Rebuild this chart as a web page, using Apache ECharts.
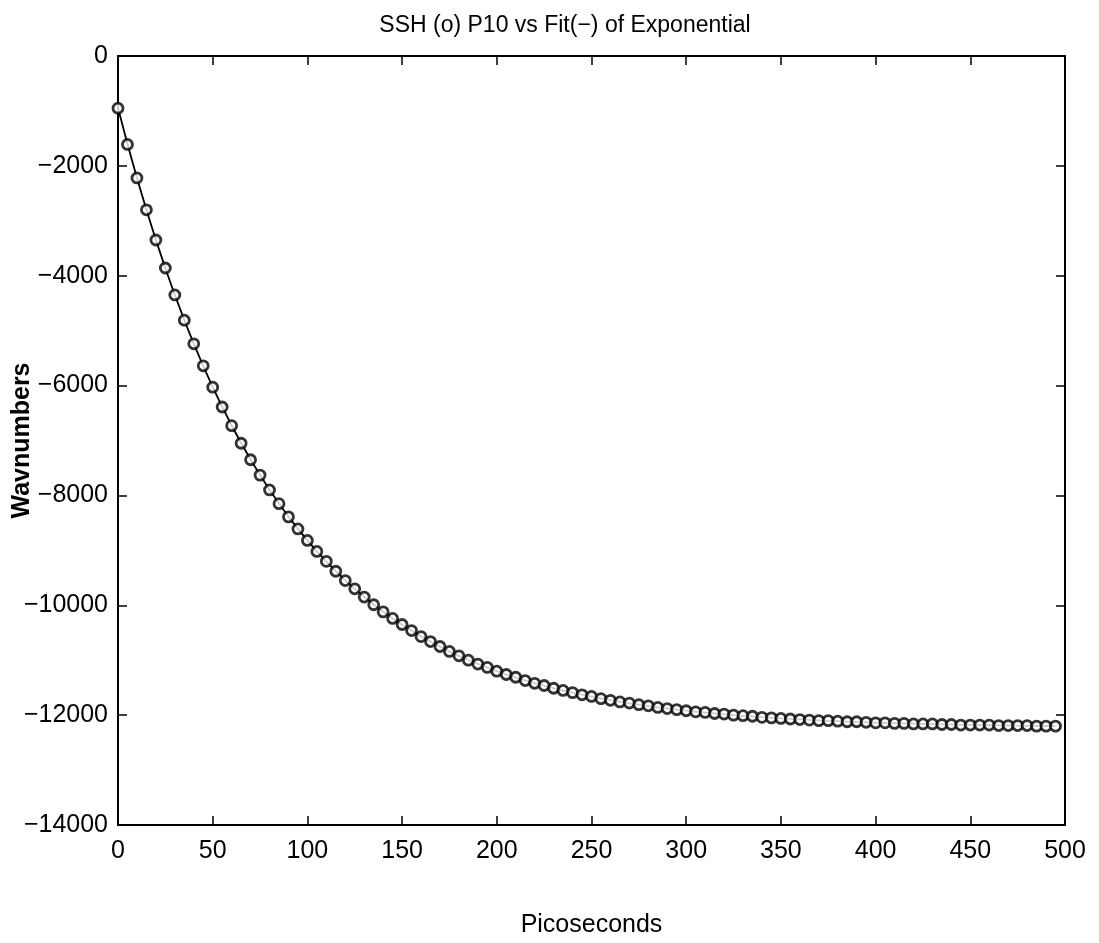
<!DOCTYPE html>
<html>
<head>
<meta charset="utf-8">
<script src="https://cdn.jsdelivr.net/npm/echarts@6/dist/echarts.min.js"></script>
<style>
html,body{margin:0;padding:0;background:#fff;}
#chart{width:1099px;height:943px;}
</style>
</head>
<body>
<div id="chart"></div>
<script>
// Picoseconds (x) for every sample
const times = [0,5,10,15,20,25,30,35,40,45,50,55,60,65,70,75,80,85,90,95,
  100,105,110,115,120,125,130,135,140,145,150,155,160,165,170,175,180,185,190,195,
  200,205,210,215,220,225,230,235,240,245,250,255,260,265,270,275,280,285,290,295,
  300,305,310,315,320,325,330,335,340,345,350,355,360,365,370,375,380,385,390,395,
  400,405,410,415,420,425,430,435,440,445,450,455,460,465,470,475,480,485,490,495];

// SSH (o) P10 measured points, wavenumbers
const sshP10 = [-950,-1610,-2220,-2800,-3350,-3860,-4350,-4810,-5240,-5640,
  -6030,-6390,-6730,-7050,-7350,-7630,-7900,-8150,-8390,-8610,
  -8820,-9020,-9200,-9380,-9550,-9700,-9850,-9990,-10120,-10240,
  -10350,-10460,-10570,-10660,-10750,-10840,-10920,-11000,-11070,-11130,
  -11200,-11260,-11310,-11370,-11420,-11460,-11510,-11550,-11590,-11630,
  -11660,-11700,-11730,-11760,-11780,-11810,-11830,-11860,-11880,-11900,
  -11920,-11940,-11950,-11970,-11980,-12000,-12010,-12020,-12040,-12050,
  -12060,-12070,-12080,-12090,-12100,-12100,-12110,-12120,-12120,-12130,
  -12140,-12140,-12150,-12150,-12160,-12160,-12160,-12170,-12170,-12180,
  -12180,-12180,-12180,-12190,-12190,-12190,-12190,-12200,-12200,-12200];

// Fit(-) of exponential
const fitVals = [-947,-1602,-2219,-2800,-3348,-3864,-4350,-4807,-5238,-5644,
  -6026,-6386,-6726,-7045,-7346,-7630,-7897,-8148,-8385,-8609,
  -8819,-9017,-9203,-9379,-9545,-9701,-9847,-9986,-10116,-10239,
  -10354,-10463,-10566,-10662,-10753,-10839,-10920,-10996,-11068,-11135,
  -11199,-11259,-11315,-11368,-11418,-11465,-11510,-11552,-11591,-11628,
  -11663,-11696,-11727,-11756,-11784,-11810,-11834,-11857,-11879,-11899,
  -11918,-11936,-11953,-11969,-11985,-11999,-12012,-12025,-12037,-12048,
  -12059,-12069,-12078,-12087,-12095,-12103,-12110,-12117,-12124,-12130,
  -12136,-12141,-12146,-12151,-12156,-12160,-12164,-12168,-12172,-12175,
  -12178,-12181,-12184,-12187,-12189,-12192,-12194,-12196,-12198,-12200];

const xTicks = [0,50,100,150,200,250,300,350,400,450,500];
const yTicks = [-14000,-12000,-10000,-8000,-6000,-4000,-2000,0];

const FONT = 'Liberation Sans';
const chart = echarts.init(document.getElementById('chart'));

const axisLine = {show:true, onZero:false, lineStyle:{color:'#000', width:2}};
const tickIn = {show:true, inside:true, length:9, lineStyle:{color:'#000', width:1.5}};

chart.setOption({
  backgroundColor:'#fff',
  animation:false,
  title:{
    text:'SSH (o) P10 vs Fit(\u2212) of Exponential',
    left:560, top:9, textAlign:'center',
    textStyle:{fontFamily:FONT, fontSize:23, fontWeight:'normal', color:'#000'}
  },
  grid:{left:118, right:34, top:56, bottom:118, containLabel:false, outerBoundsMode:'none'},
  xAxis:[{
    type:'value', min:xTicks[0], max:xTicks[xTicks.length-1], interval:50,
    position:'bottom',
    name:'Picoseconds', nameLocation:'middle', nameGap:88, nameMoveOverlap:false,
    nameTextStyle:{fontFamily:FONT, fontSize:25, color:'#000'},
    axisLine:axisLine, axisTick:tickIn, splitLine:{show:false},
    axisLabel:{fontFamily:FONT, fontSize:25, color:'#000', margin:14}
  },{
    type:'value', min:xTicks[0], max:xTicks[xTicks.length-1], interval:50,
    position:'top',
    axisLine:axisLine, axisTick:tickIn, splitLine:{show:false},
    axisLabel:{show:false}
  }],
  yAxis:[{
    type:'value', min:yTicks[0], max:yTicks[yTicks.length-1], interval:2000,
    position:'left',
    name:'Wavnumbers', nameLocation:'middle', nameGap:83, nameRotate:90, nameMoveOverlap:false,
    nameTextStyle:{fontFamily:FONT, fontSize:25, fontWeight:'bold', color:'#000'},
    axisLine:axisLine, axisTick:tickIn, splitLine:{show:false},
    axisLabel:{fontFamily:FONT, fontSize:25, color:'#000', margin:10,
      formatter:v => String(v).replace('-', '\u2212')}
  },{
    type:'value', min:yTicks[0], max:yTicks[yTicks.length-1], interval:2000,
    position:'right',
    axisLine:axisLine, axisTick:tickIn, splitLine:{show:false},
    axisLabel:{show:false}
  }],
  series:[{
    name:'Fit', type:'line', xAxisIndex:0, yAxisIndex:0,
    data:times.map((t,i)=>[t, fitVals[i]]),
    showSymbol:false, symbol:'none',
    lineStyle:{color:'#000', width:1.8}, z:2
  },{
    name:'SSH (o) P10', type:'scatter', xAxisIndex:0, yAxisIndex:0,
    data:times.map((t,i)=>[t, sshP10[i]]),
    symbol:'circle', symbolSize:10,
    itemStyle:{color:'#fff', borderColor:'#000', borderWidth:2.8}, z:3
  }]
});
</script>
</body>
</html>
